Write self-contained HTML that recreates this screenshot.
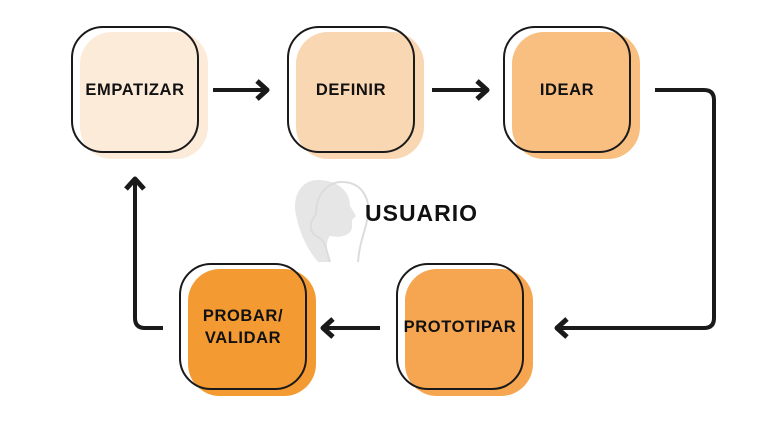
<!DOCTYPE html>
<html><head><style>
body{margin:0;width:768px;height:429px;background:#fff;overflow:hidden;position:relative;font-family:"Liberation Sans",sans-serif}
.f{position:absolute;width:128px;height:127px;border-radius:32px}
.o{position:absolute;width:124px;height:123px;border:2px solid #1a1a1a;border-radius:32px;display:flex;align-items:center;justify-content:center;text-align:center;font-weight:bold;font-size:16.5px;letter-spacing:0.6px;color:#111;line-height:22px}
svg{position:absolute;left:0;top:0}
</style></head><body>
<svg width="768" height="429">
<path d="M318 180 C300 180 292 198 296 215 C300 235 308 250 318 262 L330 262 C326 250 326 240 330 236 C340 238 350 236 352 228 L352 220 L356 216 L350 206 C350 190 336 180 318 180Z" fill="#e6e6e6"/>
<path d="M330 262 C326 250 326 240 316 236 C308 230 310 222 316 214 C316 196 326 182 342 182 C360 182 370 196 368 214 C366 232 360 238 358 262" fill="none" stroke="#dcdcdc" stroke-width="2"/>
<g stroke="#1a1a1a" stroke-width="4" fill="none" stroke-linejoin="round">
<path d="M213 90 H264"/><path d="M257 81 L267 90 L257 99" stroke-width="5"/>
<path d="M432 90 H484"/><path d="M477 81 L487 90 L477 99" stroke-width="5"/>
<path d="M655 90 H704 Q714 90 714 100 V318 Q714 328 704 328 H560"/><path d="M567 319 L557 328 L567 337" stroke-width="5"/>
<path d="M380 328 H326"/><path d="M333 319 L323 328 L333 337" stroke-width="5"/>
<path d="M163 328 H145 Q135 328 135 318 V182"/><path d="M126 189 L135 179 L144 189" stroke-width="5"/>
</g>
</svg>
<div style="position:absolute;left:365px;top:200px;font-weight:bold;font-size:23px;letter-spacing:1px;color:#111">USUARIO</div>
<div class="f" style="left:80px;top:32px;background:#fdebd9"></div>
<div class="o" style="left:71px;top:26px">EMPATIZAR</div>
<div class="f" style="left:296px;top:32px;background:#fad7b3"></div>
<div class="o" style="left:287px;top:26px">DEFINIR</div>
<div class="f" style="left:512px;top:32px;background:#f8bf80"></div>
<div class="o" style="left:503px;top:26px">IDEAR</div>
<div class="f" style="left:405px;top:269px;background:#f6a650"></div>
<div class="o" style="left:396px;top:263px">PROTOTIPAR</div>
<div class="f" style="left:188px;top:269px;background:#f49a32"></div>
<div class="o" style="left:179px;top:263px">PROBAR/<br>VALIDAR</div>
</body></html>
